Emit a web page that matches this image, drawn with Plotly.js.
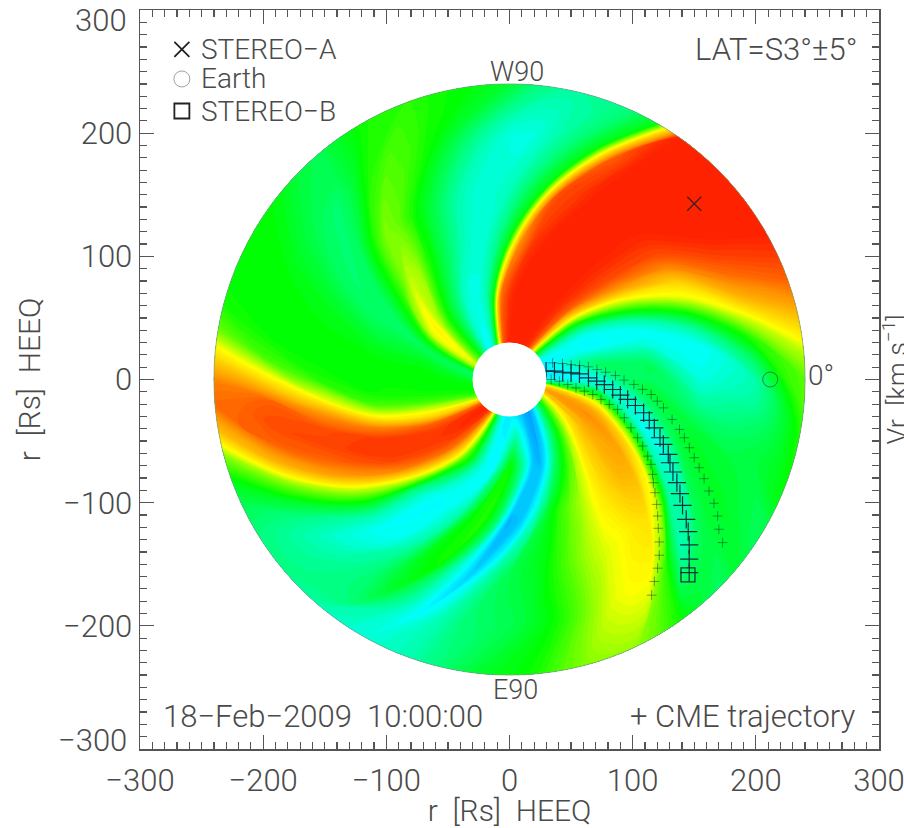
<!DOCTYPE html>
<html><head><meta charset="utf-8">
<script src="https://cdn.plot.ly/plotly-3.0.1.min.js"></script>
<style>html,body{margin:0;padding:0;background:#fff;overflow:hidden}#c{width:904px;height:828px}</style>
</head><body><div id="c"></div>
<script>
// Solar-wind speed (km/s) read around six rings; each row lists theta = 0,5,...,355 deg
const ringRadii=[30,72,114,156,198,240];
const ring30=[330,315,312,312,312,315,318,335,365,405,475,570,610,620,625,625,625,625,625,610,590,480,395,345,325,325,345,375,400,420,440,470,450,400,370,375,385,395,400,400,405,420,455,520,590,620,625,615,580,470,395,350,325,315,315,315,310,300,290,280,275,285,310,345,375,405,440,480,525,555,510,390];
const ring72=[325,350,370,350,325,318,325,355,410,500,590,615,625,628,628,628,628,625,610,580,395,345,330,330,340,365,385,410,450,490,465,400,372,385,395,400,400,400,405,420,465,510,590,610,612,605,580,510,430,385,345,322,320,365,405,375,340,295,285,320,365,395,425,465,505,530,550,565,545,480,400,345];
const ring114=[370,375,355,330,322,350,410,480,560,600,615,625,628,628,628,625,610,565,395,355,335,335,345,365,385,410,450,460,420,390,368,370,378,390,398,400,400,402,420,480,570,610,612,605,570,470,365,330,320,325,345,400,410,370,285,295,340,385,410,430,450,475,500,520,540,545,500,400,325,330,365,385];
const ring156=[332,325,322,350,400,470,510,565,600,615,625,628,628,628,610,600,395,365,340,335,335,345,365,385,405,430,440,405,372,365,372,385,395,398,400,400,410,470,560,600,605,590,555,460,395,345,322,325,350,395,405,340,295,345,375,385,395,415,435,455,470,480,495,505,460,350,335,378,390,382,365,345];
const ring198=[345,370,410,470,540,580,605,622,628,628,628,625,622,590,395,365,345,330,332,345,365,385,405,420,425,410,380,365,372,380,390,398,400,400,402,420,500,590,600,590,540,445,390,355,340,345,355,365,385,350,318,345,365,370,375,385,400,420,445,470,480,480,410,345,370,385,388,385,380,375,365,350];
const ring240=[425,455,505,555,590,610,625,628,628,628,625,622,395,365,355,352,352,365,385,395,400,405,412,412,405,390,375,380,392,400,402,400,400,405,430,500,570,585,530,440,395,375,365,360,358,355,345,338,335,338,345,360,375,390,395,405,425,440,445,445,430,405,385,370,385,375,375,395,400,405,410,425];
const rings=[ring30,ring72,ring114,ring156,ring198,ring240];

const cmeX=[29.7,36.5,43.2,50,56.8,64.1,70.8,77,83.8,90,95.9,102.2,108.9,113.5,117.6,122.2,124.9,128.9,130.3,132.7,135.9,138.4,140.5,143.5,145.1,145.9,145.9,145.9];
const cmeY=[6.8,6.8,5.9,5.4,4.6,1.4,-1.4,-4.1,-8.1,-12.7,-16.2,-21.1,-27,-33.2,-39.2,-47.3,-52.7,-60.8,-67.6,-75.1,-83.8,-92.7,-102.2,-113.5,-123.5,-134.3,-145.9,-156.8];
const upX=[35,43,50,57,64,71,78,86,93,101,108,115,120,125,132,138,142,146,150,154,158,162,166,169,170,173];
const upY=[13.5,13,12,11.4,10.3,8.1,5.9,3.2,-0.5,-4,-8,-12.2,-17.6,-23,-32.4,-40.5,-47.3,-55.4,-63.5,-71.6,-80.5,-90.5,-100.5,-110.8,-121.6,-132.4];
const loX=[33.8,40.5,47.3,54,60.8,67.6,74.3,81,87.8,93.2,98.6,104,108.1,112.2,114.9,116.2,116.8,118.1,119.5,120.3,120.8,121.6,121.6,120.3,117.6,115.4];
const loY=[0,-1.4,-4.1,-6.8,-9.5,-12.2,-16.2,-20.3,-24.3,-31.1,-39.2,-47.3,-54,-62.2,-68.9,-77,-83.8,-91.9,-101.4,-110.8,-120.8,-131.9,-142.7,-153.2,-164,-175.1];

const xTickVals=[-300,-200,-100,0,100,200,300];
const xTickText=['\u2212300','\u2212200','\u2212100','0','100','200','300'];
const yTickVals=[-200,-100,0,100,200];
const yTickText=['\u2212200','\u2212100','0','100','200'];
// text, x, y, anchor, size
const notes=[
 ['STEREO\u2212A',-252,268,'left',28],['Earth',-252,244,'left',28],['STEREO\u2212B',-252,218,'left',28],
 ['LAT=S3\u00b0\u00b15\u00b0',284,268,'right',31],['W90',6,250,'center',27],['E90',5,-252,'center',27],['0\u00b0',241,3,'left',28],
 ['18\u2212Feb\u22122009  10:00:00',-283,-274,'left',31],['+ CME trajectory',283,-274,'right',31]
];

const shiftStep=10, stepDeg=5, n=72;
const phi=[];for(let j=0;j<=n;j++)phi.push(j*stepDeg);
const gx=[],gy=[],gz=[];
phi.forEach((p,j)=>{const rx=[],ry=[],rz=[];
 ringRadii.forEach((r,i)=>{const th=(p-shiftStep*i)*Math.PI/180;
  rx.push(r*Math.cos(th));ry.push(r*Math.sin(th));
  rz.push(rings[i][((j%n)-2*i+n*2)%n]);});
 gx.push(rx);gy.push(ry);gz.push(rz);});

const ink='#4a4a4a', font='Roboto';
const lo=250,hi=630;
const scale=[[0,'#0070ff'],[(320-lo)/(hi-lo),'#00ffff'],[(400-lo)/(hi-lo),'#00ff00'],[(480-lo)/(hi-lo),'#ffff00'],[(560-lo)/(hi-lo),'#ff9a00'],[(625-lo)/(hi-lo),'#ff2200'],[1,'#ff2200']];
const noAx={showgrid:false,showticklabels:'none',showline:false,ticks:'',minorgridcount:0,startline:false,endline:false,smoothing:1};
function mk(x,y,symbol,size,width,color){return {type:'scatter',mode:'markers',x:x,y:y,hoverinfo:'skip',marker:{symbol:symbol,size:size,color:color,line:{width:width,color:color}}};}
const traces=[
 {type:'carpet',carpet:'disc',a:ringRadii,b:phi,x:gx,y:gy,aaxis:noAx,baxis:noAx,hoverinfo:'skip'},
 {type:'contourcarpet',carpet:'disc',a:ringRadii,b:phi,z:gz,zmin:lo,zmax:hi,colorscale:scale,showscale:false,autocontour:false,
  contours:{start:lo+2,end:hi+2,size:5,coloring:'fill',showlines:false},line:{width:0}},
 mk(upX,upY,'cross-thin',7,0.8,'rgba(20,50,50,.6)'),
 mk(loX,loY,'cross-thin',7,0.8,'rgba(20,50,50,.6)'),
 mk(cmeX,cmeY,'cross-thin',13,1.2,'#12303a'),
 mk([150],[142.7],'x-thin',14,1.2,'#332222'),
 mk([211.7],[0],'circle-open',15,1,'#2f7a45'),
 mk([144.9],[-158.6],'square-open',14,1.2,'#12303a'),
 mk([-266],[268],'x-thin',15,1.8,'#222'),
 mk([-266],[244],'circle-open',16,1,'#a0a0a0'),
 mk([-266],[218],'square-open',15,1.8,'#222')
];
const tf={family:font,size:31,color:ink,weight:300};
const ax={range:[-300,300],autorange:false,zeroline:false,showgrid:false,showline:true,linecolor:'#555',linewidth:1.5,mirror:'allticks',
 ticks:'inside',ticklen:14,tickwidth:1.2,tickcolor:'#555',tickmode:'array',ticklabeloverflow:'allow',
 minor:{dtick:10,ticks:'inside',ticklen:7,tickwidth:1.2,tickcolor:'#555'},tickfont:tf};
const layout={width:904,height:828,showlegend:false,paper_bgcolor:'#fff',plot_bgcolor:'#fff',
 margin:{l:139.5,r:25,t:10,b:79},
 font:tf,
 xaxis:Object.assign({},ax,{tickvals:xTickVals,ticktext:xTickText,ticklabelstandoff:3,title:{text:'r  [Rs]  HEEQ',font:Object.assign({},tf,{size:30}),standoff:2}}),
 yaxis:Object.assign({},ax,{tickvals:yTickVals,ticktext:yTickText,title:{text:'r  [Rs]  HEEQ',font:Object.assign({},tf,{size:30}),standoff:13}}),
 shapes:[
  {type:'circle',x0:-240,x1:240,y0:-240,y1:240,line:{color:'#8a9a80',width:0.7},layer:'above'},
  {type:'circle',x0:-30,x1:30,y0:-30,y1:30,fillcolor:'#fff',line:{width:0},layer:'above'}],
 annotations:notes.map(a=>({text:a[0],x:a[1],y:a[2],xref:'x',yref:'y',xanchor:a[3],yanchor:'middle',showarrow:false,font:Object.assign({},tf,{size:a[4]})}))
  .concat([
   {text:'Vr  [km s<sup>\u22121</sup>]',xref:'paper',yref:'paper',x:1.0,y:0.5,xshift:16,xanchor:'center',yanchor:'middle',textangle:-90,showarrow:false,font:Object.assign({},tf,{size:27})},
   {text:'300',xref:'paper',yref:'paper',x:0,y:1,xshift:-11,yshift:-10,xanchor:'right',yanchor:'middle',showarrow:false,font:tf},
   {text:'\u2212300',xref:'paper',yref:'paper',x:0,y:0,xshift:-11,yshift:9,xanchor:'right',yanchor:'middle',showarrow:false,font:tf}])
};
Plotly.newPlot('c',traces,layout,{displayModeBar:false,staticPlot:true});
</script></body></html>
